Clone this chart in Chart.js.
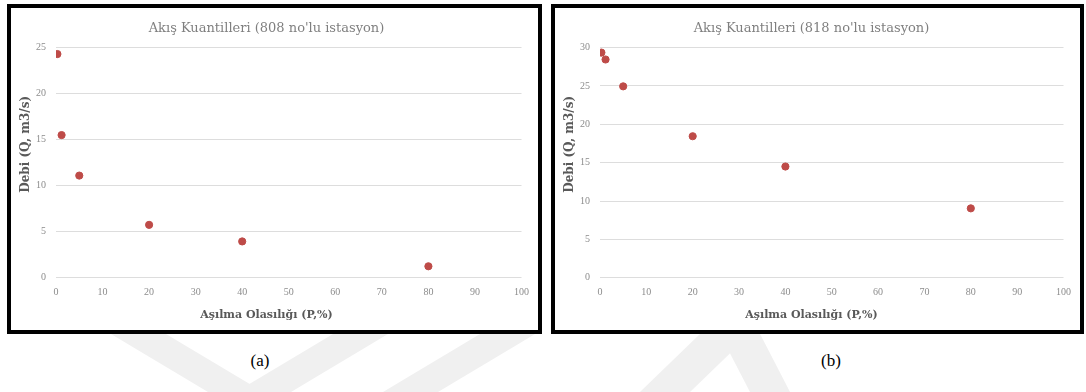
<!DOCTYPE html>
<html>
<head>
<meta charset="utf-8">
<script src="https://cdn.jsdelivr.net/npm/chart.js@4.4.0/dist/chart.umd.min.js"></script>
<style>
  html, body { margin:0; padding:0; background:#ffffff; }
  body { width:1086px; height:392px; position:relative; overflow:hidden; }
  .wm { position:absolute; left:0; top:0; }
  .box { position:absolute; top:4px; border:4px solid #000; background:rgba(255,255,255,0.9); }
  #boxA { left:7px; width:527px; height:322px; }
  #boxB { left:551px; width:525px; height:322px; }
  canvas { display:block; }
  .lbl { position:absolute; top:351px; font-family:"Liberation Serif", serif; font-size:17px; color:#000; transform:translateX(-50%); }
</style>
</head>
<body>
<svg class="wm" width="1086" height="392">
  <g fill="#f0f0f0">
    <polygon points="111,334 166,334 263,392 208,392"/>
    <polygon points="333,334 388,334 291,392 236,392"/>
    <polygon points="480,334 535,334 438,392 383,392"/>
    <polygon points="700,334 750,334 690,392 640,392"/>
    <polygon points="720,334 760,334 790,392 750,392"/>
  </g>
</svg>
<div class="box" id="boxA"><canvas id="chartA" width="527" height="322"></canvas></div>
<div class="box" id="boxB"><canvas id="chartB" width="525" height="322"></canvas></div>
<div class="lbl" style="left:260px">(a)</div>
<div class="lbl" style="left:831px">(b)</div>
<script>
// Exceedance probabilities (P, %)
const probabilities = [0.3, 1.2, 5, 20, 40, 80];
// Flow quantiles, station 808 (Q, m3/s)
const flow808 = [24.3, 15.5, 11.1, 5.75, 3.95, 1.25];
// Flow quantiles, station 818 (Q, m3/s)
const flow818 = [29.35, 28.45, 24.95, 18.45, 14.5, 9.05];
// Titles and axis labels
const titles = ["Akış Kuantilleri (808 no'lu istasyon)", "Akış Kuantilleri (818 no'lu istasyon)"];
const xAxisTitle = "Aşılma Olasılığı (P,%)";
const yAxisTitle = "Debi (Q, m3/s)";
// Axis ranges
const xRange = [0, 100, 10];
const yMaxA = 25, yMaxB = 30, yStep = 5;

const serif = '"DejaVu Serif", "Liberation Serif", serif';

const yTitlePlugin = {
  id: 'yTitle',
  afterDraw(chart) {
    const {ctx, chartArea} = chart;
    ctx.save();
    ctx.translate(15, chartArea.top + chartArea.height * 0.42);
    ctx.rotate(-Math.PI / 2);
    ctx.font = 'bold 12px ' + serif;
    ctx.fillStyle = '#595959';
    ctx.textAlign = 'center';
    ctx.textBaseline = 'middle';
    ctx.fillText(yAxisTitle, 0, 0);
    ctx.restore();
  }
};

function build(id, title, ys, yMax, rightPad) {
  new Chart(document.getElementById(id), {
    type: 'scatter',
    data: {
      datasets: [{
        data: probabilities.map((p, i) => ({x: p, y: ys[i]})),
        backgroundColor: '#be4b48',
        borderColor: '#be4b48',
        pointRadius: 3.6,
        pointHoverRadius: 3.6
      }]
    },
    options: {
      responsive: false,
      animation: false,
      devicePixelRatio: 1,
      layout: { padding: { left: 0, right: rightPad, top: 0, bottom: 0 } },
      plugins: {
        legend: { display: false },
        tooltip: { enabled: false },
        title: {
          display: true, text: title, color: '#7f7f7f',
          font: { family: serif, size: 13, weight: 'normal' },
          padding: { top: 13, bottom: 11 }
        },
        subtitle: {
          display: true, position: 'bottom', text: xAxisTitle, color: '#595959',
          font: { family: serif, size: 11, weight: 'bold' },
          padding: { top: 4, bottom: 8 }
        }
      },
      scales: {
        x: {
          type: 'linear', min: xRange[0], max: xRange[1],
          ticks: { stepSize: xRange[2], color: '#8c8c8c', font: { family: '"Liberation Serif", serif', size: 10 }, padding: 9 },
          grid: { display: false, drawTicks: false },
          border: { display: false },
          afterFit: s => { s.height = 27; }
        },
        y: {
          min: 0, max: yMax,
          ticks: { stepSize: yStep, color: '#8c8c8c', font: { family: '"Liberation Serif", serif', size: 10 }, padding: 10 },
          grid: { color: '#dddddd', lineWidth: 1, drawTicks: false },
          border: { display: false },
          afterFit: s => { s.width = 45; }
        }
      }
    },
    plugins: [yTitlePlugin]
  });
}

build('chartA', titles[0], flow808, yMaxA, 16);
build('chartB', titles[1], flow818, yMaxB, 12);
</script>
</body>
</html>
